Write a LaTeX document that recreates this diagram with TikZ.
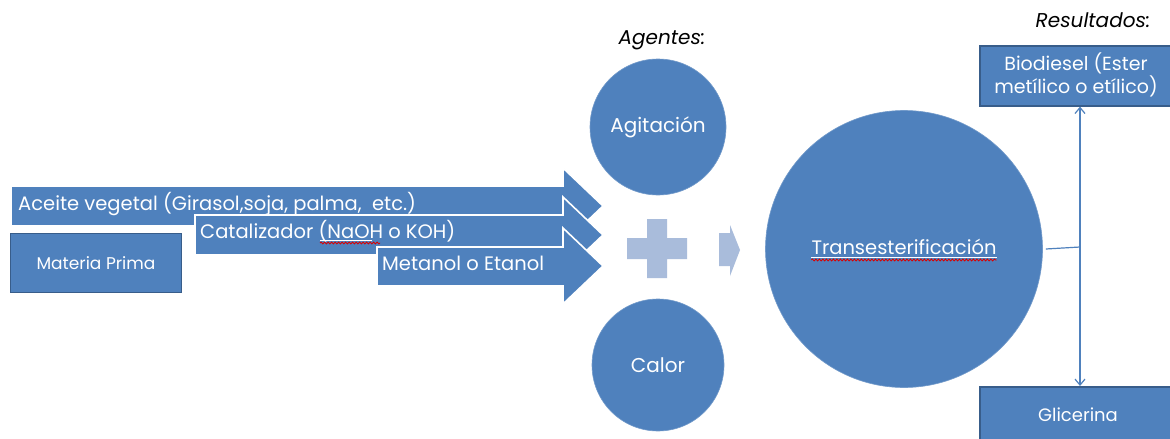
\documentclass[tikz,border=0pt]{standalone}
\usepackage{fontspec}
\setmainfont{Poppins}
\usetikzlibrary{arrows.meta,decorations.pathmorphing}
\definecolor{mainblue}{HTML}{4F81BD}
\definecolor{darkblue}{HTML}{385D8A}
\definecolor{lightblue}{HTML}{A9BCDB}
\tikzset{
  flowarrow/.style={fill=mainblue, draw=white, line width=1.6pt, line join=miter},
  arrowtext/.style={anchor=west, text=white, inner sep=0pt, font=\fontsize{19.5}{23}\selectfont},
  boxnode/.style={draw=darkblue, line width=1.6pt, fill=mainblue, text=white, inner sep=0pt, font=\fontsize{17}{20}\selectfont},
  agent/.style={circle, fill=mainblue, draw=mainblue!80!white, line width=0.6pt, text=white, inner sep=0pt, font=\fontsize{20}{23}\selectfont},
  caption/.style={text=black, inner sep=0pt, font=\itshape\fontsize{20}{23}\selectfont},
  lightshape/.style={fill=lightblue, draw=none},
  squiggle/.style={red!85!black, line width=0.8pt, decorate, decoration={snake, amplitude=1pt, segment length=3.5pt}},
  link/.style={draw=mainblue, line width=1.2pt},
}
\begin{document}
\begin{tikzpicture}[x=1pt,y=-1pt]
\useasboundingbox (0,0) rectangle (1170,439);
\fill[white] (0,0) rectangle (1170,439);

% input arrows
\draw[flowarrow] (11,186) -- (563,186) -- (563,168) -- (603,206) -- (563,244) -- (563,226) -- (11,226) -- cycle;
\draw[flowarrow] (195,215) -- (563,215) -- (563,197) -- (603,235) -- (563,273) -- (563,255) -- (195,255) -- cycle;
\draw[flowarrow] (377,247) -- (563,247) -- (563,228) -- (603,266) -- (563,304) -- (563,286) -- (377,286) -- cycle;

\node[arrowtext] (aceite) at (18,204) {Aceite vegetal (Girasol,soja, palma,\ \ etc.)};
\node[arrowtext] (catal) at (200,231) {Catalizador (NaOH\ o KOH)};
\node[arrowtext] (metanol) at (382,263) {Metanol o Etanol};
\draw[white, line width=0.7pt] (320,240) -- (372,240);
\draw[squiggle] (320,243) -- (380,243);

% materia prima
\node[boxnode, minimum width=171pt, minimum height=59pt] (materia) at (96,263) {Materia Prima};

% agents
\node[caption] (agentes) at (662,40) {Agentes:};
\node[agent, minimum size=136pt] (agit) at (658,127) {Agitación};
\node[agent, minimum size=132pt] (calor) at (658,365) {Calor};

% plus sign
\path[lightshape] (627,238) -- (647,238) -- (647,219) -- (667,219) -- (667,238) -- (687,238) -- (687,259) -- (667,259) -- (667,278) -- (647,278) -- (647,259) -- (627,259) -- cycle;
% small chevron arrow
\path[lightshape] (719,233) -- (730,233) -- (730,225) -- (740,250) -- (730,276) -- (730,266) -- (719,266) -- cycle;

% transesterificacion
\node[agent, minimum size=277pt] (trans) at (904,249) {};
\node[text=white, inner sep=0pt, font=\fontsize{19.5}{23}\selectfont] (transtext) at (904,247) {Transesterificación};
\draw[white, line width=0.7pt] ([yshift=-2pt]transtext.south west) -- ([yshift=-2pt]transtext.south east);
\draw[squiggle] ([yshift=-5pt]transtext.south west) -- ([yshift=-5pt]transtext.south east);

% results
\node[caption] (result) at (1093,20) {Resultados:};
\node[boxnode, anchor=north west, minimum width=200pt, minimum height=60pt] (bio) at (979,45) {};
\node[text=white, align=center, inner sep=0pt, font=\fontsize{19}{23}\selectfont] (biotext) at (1076,75) {Biodiesel (Ester\\metílico o etílico)};
\node[boxnode, anchor=north west, minimum width=200pt, minimum height=70pt] (gli) at (979,386) {};
\node[text=white, inner sep=0pt, font=\fontsize{18}{21}\selectfont] (glitext) at (1078,415) {Glicerina};

% connector
\coordinate (split) at (1080,247);
\draw[link] ([xshift=3pt]trans.east) -- (split);
\draw[link, -{Straight Barb[length=6pt,width=10pt]}] (split) -- (split |- bio.south);
\draw[link, -{Straight Barb[length=6pt,width=10pt]}] (split) -- (split |- gli.north);
\end{tikzpicture}
\end{document}
